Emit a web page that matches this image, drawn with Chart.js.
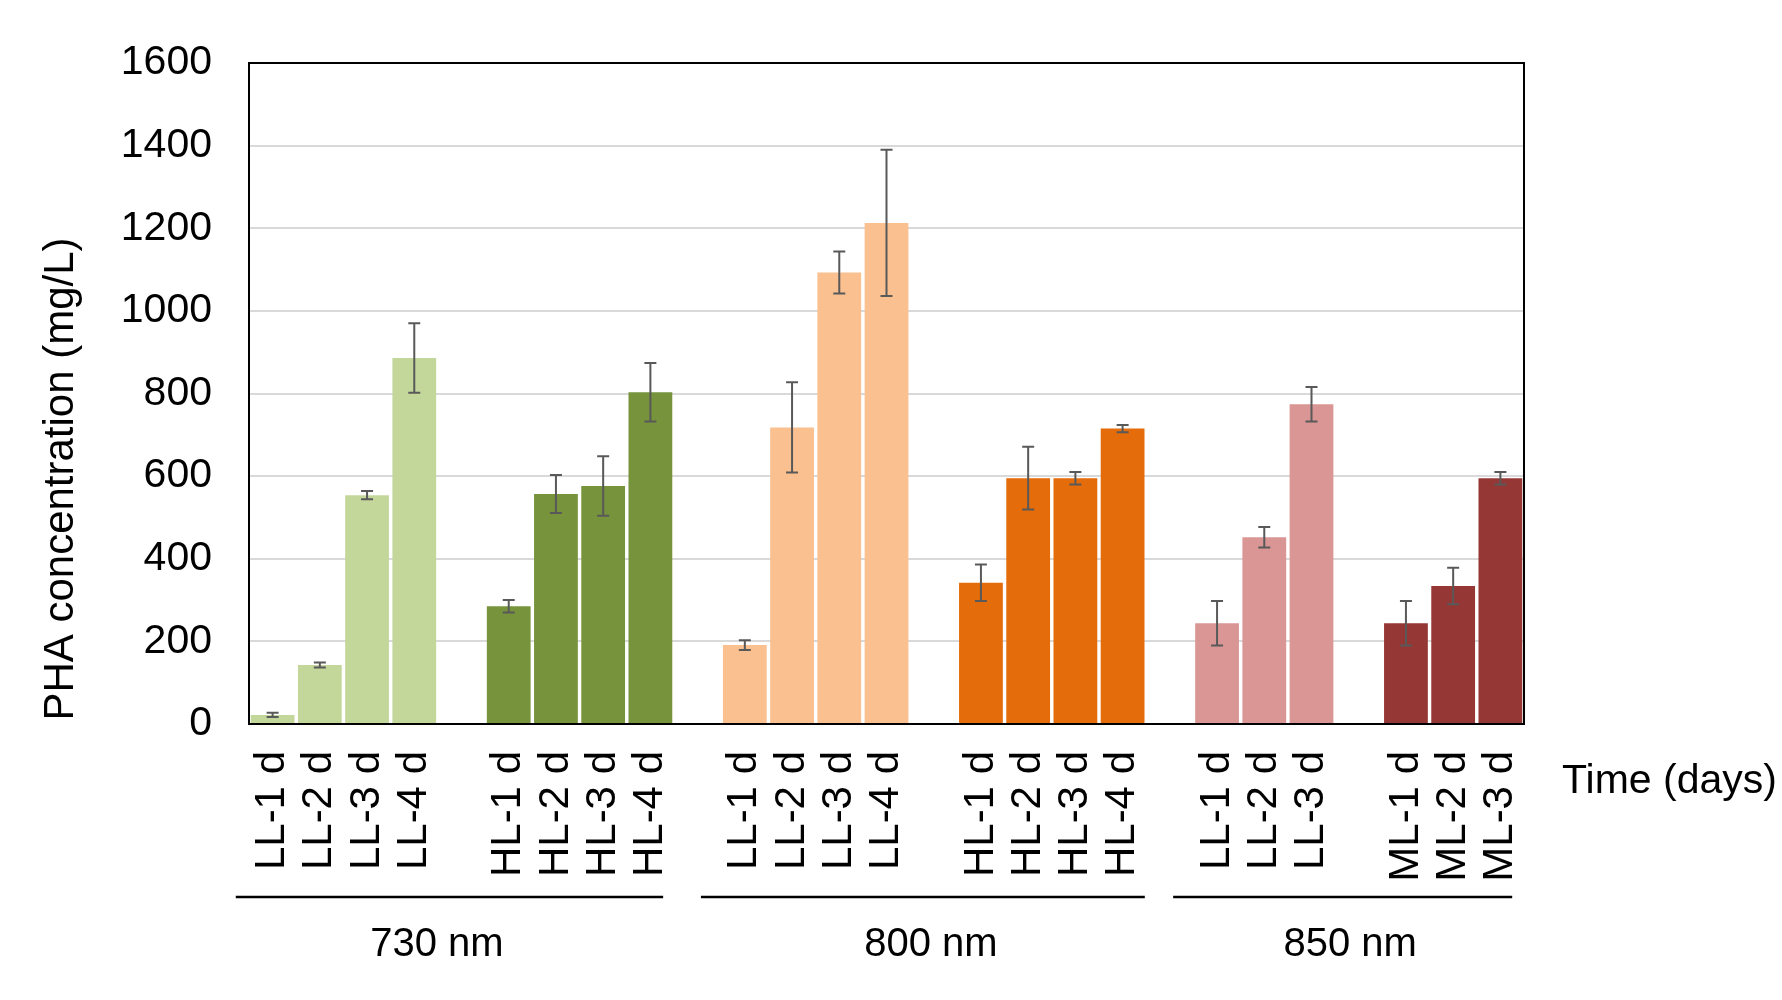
<!DOCTYPE html>
<html>
<head>
<meta charset="utf-8">
<script src="https://cdn.jsdelivr.net/npm/chart.js@4/dist/chart.umd.min.js"></script>
<style>
  html, body { margin: 0; padding: 0; background: #fff; }
  #wrap { width: 1782px; height: 1000px; position: relative; }
</style>
</head>
<body>
<div id="wrap"><canvas id="c" width="1782" height="1000"></canvas></div>
<script>
// ---- data ----
const categories = ['LL-1 d','LL-2 d','LL-3 d','LL-4 d','',
                    'HL-1 d','HL-2 d','HL-3 d','HL-4 d','',
                    'LL-1 d','LL-2 d','LL-3 d','LL-4 d','',
                    'HL-1 d','HL-2 d','HL-3 d','HL-4 d','',
                    'LL-1 d','LL-2 d','LL-3 d','',
                    'ML-1 d','ML-2 d','ML-3 d'];
const phaValues = [22, 143, 554, 886, null,
                   285, 557, 576, 803, null,
                   191, 718, 1093, 1213, null,
                   342, 595, 595, 715, null,
                   244, 452, 774, null,
                   244, 334, 595];
const phaErrors = [5, 6, 10, 84, null,
                   15, 46, 72, 71, null,
                   12, 109, 51, 177, null,
                   44, 76, 15, 9, null,
                   54, 25, 42, null,
                   54, 44, 15];
const groupNames = ['730 nm', '800 nm', '850 nm'];
const yTicks = [0, 200, 400, 600, 800, 1000, 1200, 1400, 1600];
const yTitle = 'PHA concentration (mg/L)';
const xTitle = 'Time (days)';

// ---- styles ----
const barColors = [
  '#C4D79B','#C4D79B','#C4D79B','#C4D79B', null,
  '#77933C','#77933C','#77933C','#77933C', null,
  '#FAC090','#FAC090','#FAC090','#FAC090', null,
  '#E46C0A','#E46C0A','#E46C0A','#E46C0A', null,
  '#D99694','#D99694','#D99694', null,
  '#953735','#953735','#953735'
];
// group bracket extents in category units
const groupLayout = [
  { from: -0.78, to: 8.27, label: 3.48 },
  { from: 9.07, to: 18.47, label: 13.94 },
  { from: 19.07, to: 26.25, label: 22.82 }
];
const FONT = "'Liberation Sans', Arial, sans-serif";

const overlay = {
  id: 'overlay',
  afterDatasetsDraw(chart) {
    const ctx = chart.ctx;
    const ys = chart.scales.y;
    const meta = chart.getDatasetMeta(0);
    ctx.save();
    // error bars
    ctx.strokeStyle = '#595959';
    ctx.lineWidth = 2;
    phaValues.forEach((v, i) => {
      const e = phaErrors[i];
      if (v == null || e == null) return;
      const x = meta.data[i].x;
      const yt = ys.getPixelForValue(v + e);
      const yb = ys.getPixelForValue(v - e);
      ctx.beginPath();
      ctx.moveTo(x, yt); ctx.lineTo(x, yb);
      ctx.moveTo(x - 6, yt); ctx.lineTo(x + 6, yt);
      ctx.moveTo(x - 6, yb); ctx.lineTo(x + 6, yb);
      ctx.stroke();
    });
    // plot border
    const a = chart.chartArea;
    ctx.strokeStyle = '#000';
    ctx.lineWidth = 2;
    ctx.strokeRect(a.left, a.top, a.right - a.left, a.bottom - a.top);
    ctx.restore();
  },
  afterDraw(chart) {
    const ctx = chart.ctx;
    const xs = chart.scales.x;
    const step = xs.getPixelForValue(1) - xs.getPixelForValue(0);
    const px = u => xs.getPixelForValue(0) + u * step;
    ctx.save();
    ctx.fillStyle = '#000';
    ctx.strokeStyle = '#000';
    ctx.lineWidth = 2.5;
    groupNames.forEach((name, g) => {
      const gl = groupLayout[g];
      ctx.beginPath();
      ctx.moveTo(px(gl.from), 897);
      ctx.lineTo(px(gl.to), 897);
      ctx.stroke();
      ctx.font = '40px ' + FONT;
      ctx.textAlign = 'center';
      ctx.textBaseline = 'middle';
      ctx.fillText(name, px(gl.label), 945);
    });
    // x title
    ctx.font = '41px ' + FONT;
    ctx.textAlign = 'left';
    ctx.textBaseline = 'middle';
    ctx.fillText(xTitle, 1562, 782);
    // y title
    ctx.translate(61, 479);
    ctx.rotate(-Math.PI / 2);
    ctx.font = '42px ' + FONT;
    ctx.textAlign = 'center';
    ctx.textBaseline = 'middle';
    ctx.fillText(yTitle, 0, 0);
    ctx.restore();
  }
};

new Chart(document.getElementById('c'), {
  type: 'bar',
  data: {
    labels: categories,
    datasets: [{
      data: phaValues,
      backgroundColor: barColors,
      borderWidth: 0,
      barPercentage: 0.927,
      categoryPercentage: 1.0
    }]
  },
  options: {
    responsive: false,
    animation: false,
    devicePixelRatio: 1,
    layout: { padding: { top: 63, right: 258, left: 0, bottom: 0 } },
    plugins: { legend: { display: false }, tooltip: { enabled: false } },
    scales: {
      x: {
        grid: { display: false, drawTicks: false },
        border: { display: false },
        ticks: {
          autoSkip: false, maxRotation: 90, minRotation: 90,
          padding: 27, color: '#000',
          font: { family: FONT, size: 42 }
        },
        afterFit(s) { s.height = 276; }
      },
      y: {
        min: 0, max: 1600,
        afterBuildTicks(s) { s.ticks = yTicks.map(v => ({ value: v })); },
        grid: { color: '#D9D9D9', lineWidth: 2, drawTicks: false },
        border: { display: false },
        ticks: {
          padding: 37, color: '#000',
          font: { family: FONT, size: 41 },
          callback: v => String(v)
        },
        afterFit(s) { s.width = 249; }
      }
    }
  },
  plugins: [overlay]
});
</script>
</body>
</html>
